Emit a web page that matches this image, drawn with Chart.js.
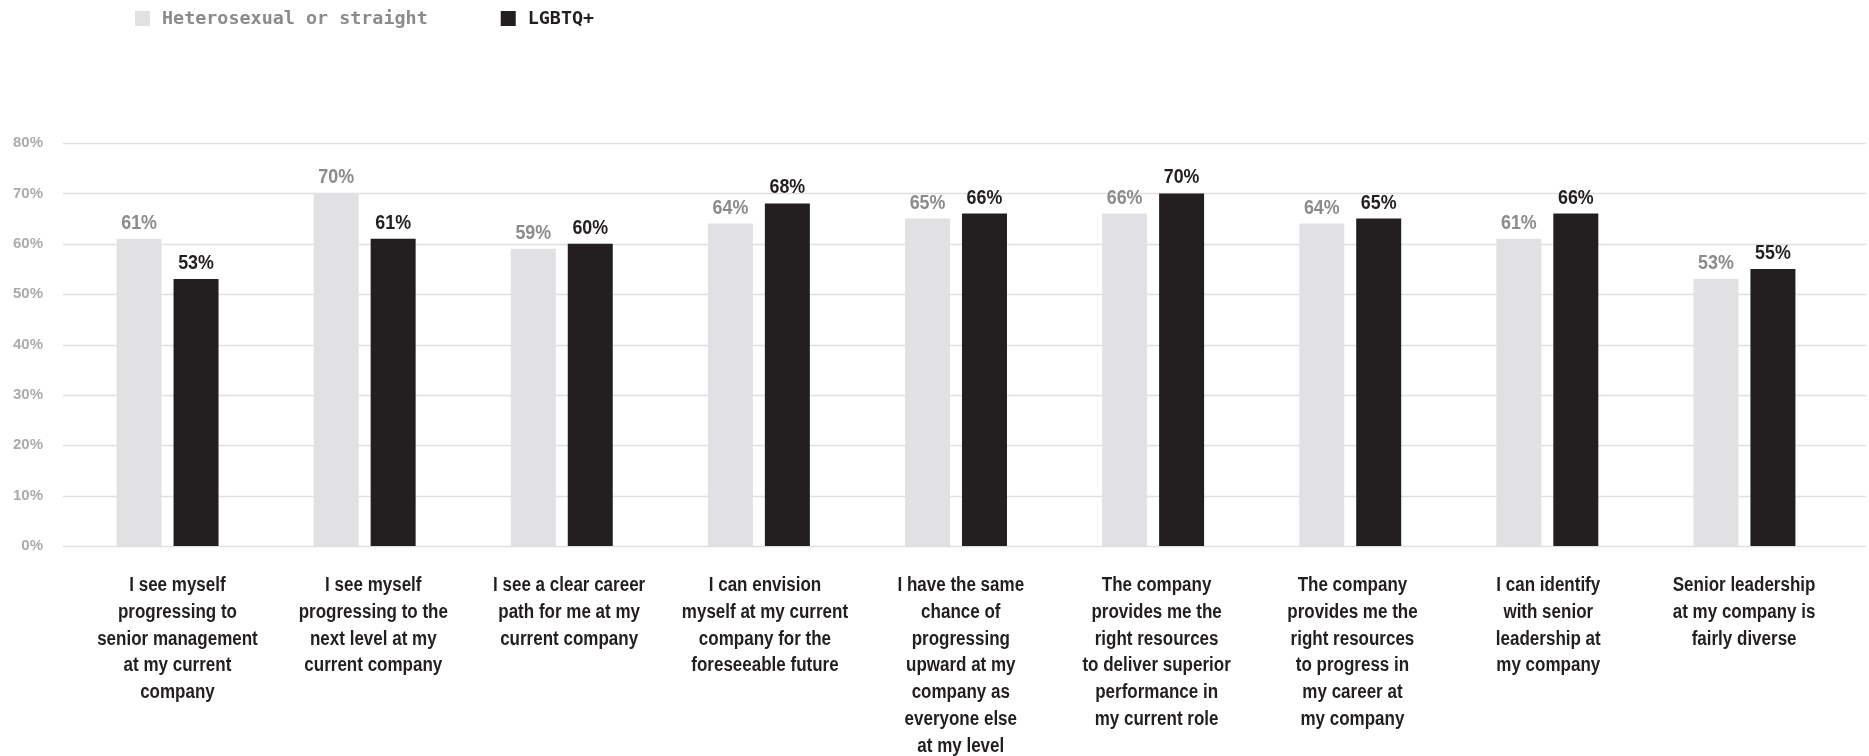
<!DOCTYPE html>
<html>
<head>
<meta charset="utf-8">
<script src="https://cdn.jsdelivr.net/npm/chart.js@4.4.1/dist/chart.umd.min.js"></script>
<style>
  html, body { margin: 0; padding: 0; background: #fff; }
  #wrap { width: 1869px; height: 756px; }
</style>
</head>
<body>
<div id="wrap"><canvas id="cvCareer" width="1869" height="756"></canvas></div>
<script>
// survey statements, one per bar group (split into lines as printed)
var statements = [
    ["I see myself", "progressing to", "senior management", "at my current", "company"],
    ["I see myself", "progressing to the", "next level at my", "current company"],
    ["I see a clear career", "path for me at my", "current company"],
    ["I can envision", "myself at my current", "company for the", "foreseeable future"],
    ["I have the same", "chance of", "progressing", "upward at my", "company as", "everyone else", "at my level"],
    ["The company", "provides me the", "right resources", "to deliver superior", "performance in", "my current role"],
    ["The company", "provides me the", "right resources", "to progress in", "my career at", "my company"],
    ["I can identify", "with senior", "leadership at", "my company"],
    ["Senior leadership", "at my company is", "fairly diverse"]
];
var seriesNames = ["Heterosexual or straight", "LGBTQ+"];
var straightValues = [61, 70, 59, 64, 65, 66, 64, 61, 53];
var lgbtqValues = [53, 61, 60, 68, 66, 70, 65, 66, 55];
var yTicks = [0, 10, 20, 30, 40, 50, 60, 70, 80];

var lightBar = "#e1e1e3";
var darkBar = "#231f20";
var lightText = "#8b8b8b";
var darkText = "#231f20";

// no narrow face is installed, so squeeze a regular bold one
var NARROW = 0.85;

function narrowText(ctx, text, x, y) {
    ctx.save();
    ctx.translate(x, y);
    ctx.scale(NARROW, 1);
    ctx.fillText(text, 0, 0);
    ctx.restore();
}

// horizontal rules run past the plot area, from the axis labels to the edge
var gridPlugin = {
    id: "wideGrid",
    beforeDatasetsDraw: function (chart) {
        var ctx = chart.ctx;
        var y = chart.scales.y;
        ctx.save();
        ctx.strokeStyle = "#e0e0e0";
        ctx.lineWidth = 1.5;
        yTicks.forEach(function (t) {
            var py = Math.round(y.getPixelForValue(t)) + 0.5;
            ctx.beginPath();
            ctx.moveTo(63, py);
            ctx.lineTo(1866, py);
            ctx.stroke();
        });
        ctx.restore();
    }
};

// percentage printed above every bar
var valuePlugin = {
    id: "barValues",
    afterDatasetsDraw: function (chart) {
        var ctx = chart.ctx;
        ctx.save();
        ctx.font = "bold 21px 'Liberation Sans', Arial, sans-serif";
        ctx.textAlign = "center";
        ctx.textBaseline = "alphabetic";
        chart.data.datasets.forEach(function (ds, i) {
            var meta = chart.getDatasetMeta(i);
            ctx.fillStyle = i === 0 ? lightText : darkText;
            meta.data.forEach(function (bar, j) {
                narrowText(ctx, ds.data[j] + "%", bar.x, bar.y - 10);
            });
        });
        ctx.restore();
    }
};

// category statements under the axis, several lines each;
// the text blocks sit on a slightly tighter pitch than the bar groups
var statementPlugin = {
    id: "statements",
    afterDraw: function (chart) {
        var ctx = chart.ctx;
        var xs = chart.scales.x;
        var top = chart.chartArea.bottom;
        ctx.save();
        ctx.font = "bold 20px 'Liberation Sans', Arial, sans-serif";
        ctx.fillStyle = darkText;
        ctx.textAlign = "center";
        ctx.textBaseline = "alphabetic";
        statements.forEach(function (lines, i) {
            var px = xs.getPixelForValue(i) * 0.9935 + 11;
            lines.forEach(function (line, k) {
                narrowText(ctx, line, px, top + 45 + k * 26.8);
            });
        });
        ctx.restore();
    }
};

// legend in the top left corner, monospace
var legendPlugin = {
    id: "monoLegend",
    afterDraw: function (chart) {
        var ctx = chart.ctx;
        var x = 135;
        ctx.save();
        ctx.font = "bold 18.4px 'DejaVu Sans Mono', 'Liberation Mono', monospace";
        ctx.textBaseline = "middle";
        chart.data.datasets.forEach(function (ds, i) {
            ctx.fillStyle = ds.backgroundColor;
            ctx.fillRect(x, 11, 15, 15);
            ctx.fillStyle = i === 0 ? lightText : darkText;
            ctx.fillText(ds.label, x + 27, 19);
            x += 27 + ctx.measureText(ds.label).width + 73;
        });
        ctx.restore();
    }
};

var ctxBar = document.getElementById("cvCareer").getContext("2d");
var theChart = new Chart(ctxBar, {
    type: "bar",
    data: {
        labels: statements.map(function (s) { return s.join(" "); }),
        datasets: [
            { label: seriesNames[0], data: straightValues, backgroundColor: lightBar },
            { label: seriesNames[1], data: lgbtqValues, backgroundColor: darkBar }
        ]
    },
    options: {
        responsive: false,
        animation: false,
        categoryPercentage: 0.578,
        barPercentage: 0.79,
        layout: { padding: { top: 143, right: 26, bottom: 0, left: 0 } },
        plugins: {
            legend: { display: false },
            tooltip: { enabled: false }
        },
        scales: {
            x: {
                grid: { display: false },
                border: { display: false },
                ticks: { display: false },
                afterFit: function (scale) { scale.height = 210; }
            },
            y: {
                min: 0,
                max: 80,
                grid: { display: false, drawTicks: false },
                border: { display: false },
                ticks: {
                    stepSize: 10,
                    padding: 26,
                    color: "#ababab",
                    font: { family: "'Liberation Sans', Arial, sans-serif", size: 15, weight: "bold" },
                    callback: function (v) { return v + "%"; }
                },
                afterFit: function (scale) { scale.width = 69; }
            }
        }
    },
    plugins: [gridPlugin, valuePlugin, statementPlugin, legendPlugin]
});
</script>
</body>
</html>
